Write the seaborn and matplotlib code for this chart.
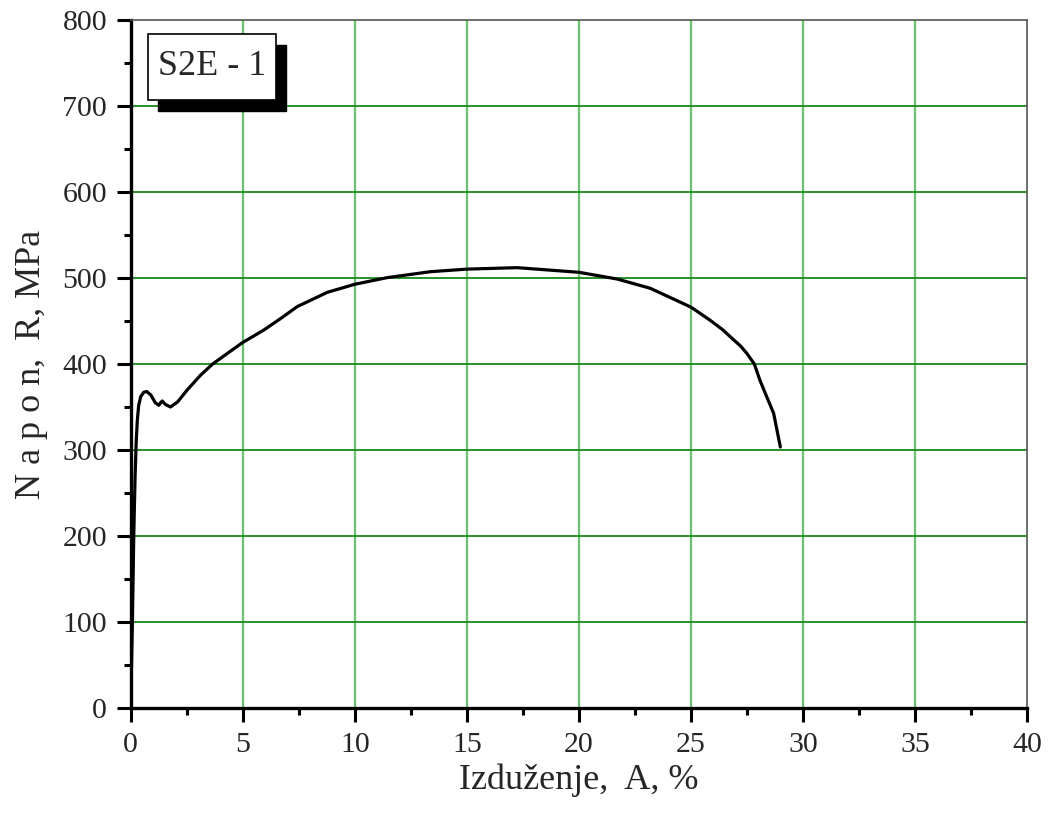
import numpy as np
import pandas as pd
import matplotlib
matplotlib.use('Agg')
import matplotlib.pyplot as plt
from matplotlib.patches import Rectangle
from matplotlib.ticker import MultipleLocator
import seaborn as sns

# Stress-strain curve
elongation = [0.0, 0.04, 0.08, 0.14, 0.20, 0.25, 0.30, 0.36, 0.45, 0.58, 0.72,
              0.90, 1.10, 1.26, 1.34, 1.41, 1.55, 1.78, 2.10, 2.53, 3.12, 3.66,
              4.46, 5.0, 5.94, 6.7, 7.43, 8.77, 10.0, 11.44, 13.37, 15.0, 17.24,
              20.0, 21.7, 23.18, 25.0, 25.84, 26.4, 26.9, 27.2, 27.48, 27.82,
              28.07, 28.37, 28.68, 28.98]
stress = [0, 50, 100, 200, 270, 310, 335, 352, 362, 367, 368,
          364, 355, 352, 355, 357, 353, 350, 356, 370, 387, 400,
          415, 425, 439.5, 453, 466.7, 483.3, 492.7, 500.4, 507.3, 510.3, 512,
          506.6, 498.8, 488, 466, 451, 440, 428, 421, 412.5, 400,
          381, 362, 342.7, 303.5]
sample_label = 'S2E - 1'

df = pd.DataFrame({'A': elongation, 'R': stress})

sns.set_style('ticks')
plt.rcParams['font.family'] = ['Liberation Serif', 'DejaVu Serif']

fig = plt.figure(figsize=(10.5, 8.25), dpi=100)
ax = fig.add_axes([0.1244, 0.1418, 0.8541, 0.834])

# grid
for x in range(5, 40, 5):
    ax.axvline(x, color='#6cbf6c', lw=1.6, zorder=0)
for y in range(100, 800, 100):
    ax.axhline(y, color='#2a8f2a', lw=1.4, zorder=0)

sns.lineplot(data=df, x='A', y='R', sort=False, color='black', lw=2.3, ax=ax,
             estimator=None, zorder=3)

ax.set_xlim(0, 40)
ax.set_ylim(0, 800)
ax.xaxis.set_major_locator(MultipleLocator(5))
ax.xaxis.set_minor_locator(MultipleLocator(2.5))
ax.yaxis.set_major_locator(MultipleLocator(100))
ax.yaxis.set_minor_locator(MultipleLocator(50))
ax.tick_params(which='major', length=10, width=2.2, labelsize=21.5, color='black', pad=7)
ax.tick_params(which='minor', length=5, width=2.2, color='black')

for side in ['left', 'bottom']:
    ax.spines[side].set_linewidth(2.4)
    ax.spines[side].set_color('black')
for side in ['top', 'right']:
    ax.spines[side].set_linewidth(1.2)
    ax.spines[side].set_color('#555555')

ax.set_xlabel('Izduženje,  A, %', fontsize=26, labelpad=4)
ax.set_ylabel('N a p o n,  R, MPa', fontsize=26, labelpad=10)

# label box with drop shadow
ax.add_patch(Rectangle((0.030, 0.868), 0.143, 0.096, transform=ax.transAxes,
                       facecolor='black', edgecolor='black', zorder=5, clip_on=False))
ax.add_patch(Rectangle((0.0192, 0.8837), 0.143, 0.096, transform=ax.transAxes,
                       facecolor='white', edgecolor='black', lw=1.2, zorder=6, clip_on=False))
ax.text(0.0907, 0.9317, sample_label, transform=ax.transAxes, fontsize=26,
        ha='center', va='center', zorder=7)

fig.savefig('out.png', dpi=100)
